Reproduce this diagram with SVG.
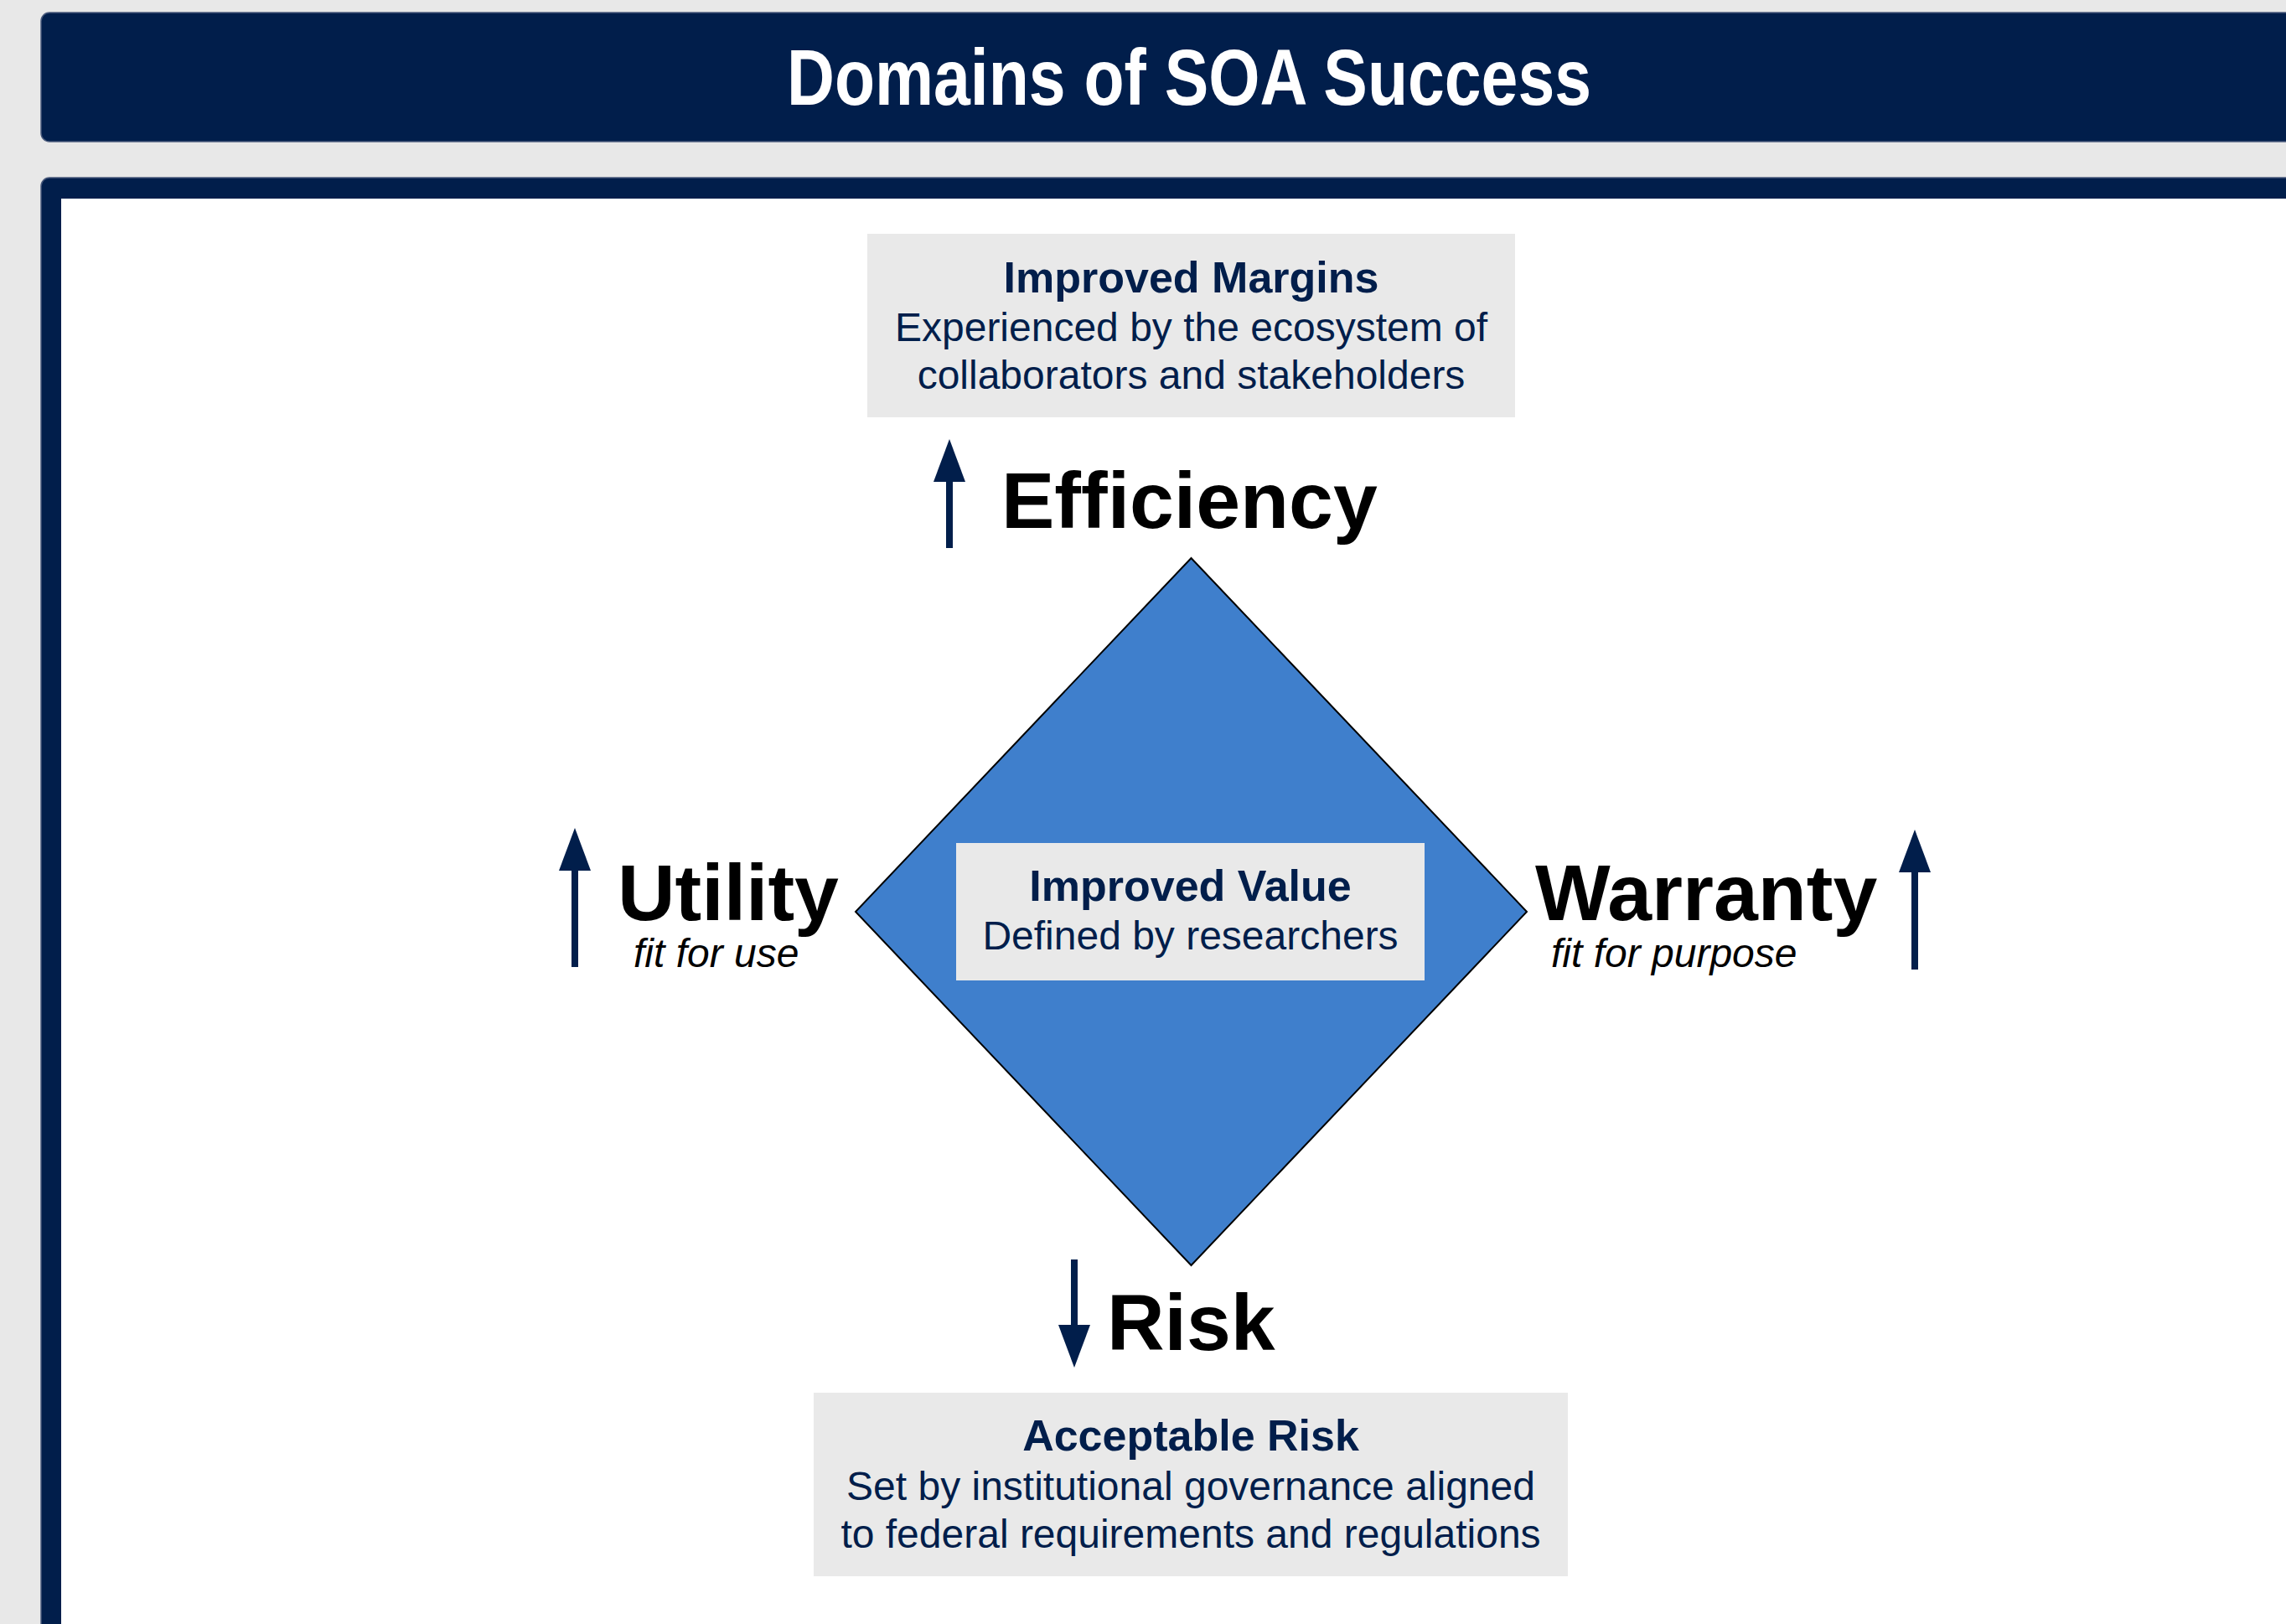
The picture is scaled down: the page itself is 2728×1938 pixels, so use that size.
<svg xmlns="http://www.w3.org/2000/svg" width="2728" height="1938" viewBox="0 0 2728 1938">
  <defs>
    <marker id="head" markerUnits="userSpaceOnUse" markerWidth="51" markerHeight="38" refX="0" refY="19" orient="auto" overflow="visible">
      <path d="M0,0 L51,19 L0,38 Z" fill="#011e4b"/>
    </marker>
    <style>
      .sans { font-family: "Liberation Sans", Arial, sans-serif; }
      .navy { fill: #011e4b; }
      .box { fill: #e9e9e9; }
      .hd { font-weight: bold; font-size: 52px; }
      .bd { font-size: 48px; }
      .big { font-weight: bold; font-size: 95px; fill: #000; }
      .sub { font-style: italic; font-size: 48px; fill: #000; }
      .arrow { stroke: #011e4b; stroke-width: 8; fill: none; marker-end: url(#head); }
    </style>
  </defs>

  <!-- page background -->
  <rect x="0" y="0" width="2728" height="1938" fill="#e8e8e8"/>

  <!-- title banner -->
  <g id="title">
    <rect x="49" y="15" width="2760" height="154" rx="10" fill="#011e4b" stroke="#4a5a7c" stroke-width="1.5"/>
    <text class="sans" x="1419" y="125" text-anchor="middle" font-size="95" font-weight="bold" fill="#ffffff" textLength="960" lengthAdjust="spacingAndGlyphs">Domains of SOA Success</text>
  </g>

  <!-- content frame -->
  <g id="frame">
    <rect x="49" y="212" width="2760" height="1800" rx="10" fill="#011e4b" stroke="#4a5a7c" stroke-width="1.5"/>
    <rect x="73" y="237" width="2740" height="1780" fill="#ffffff"/>
  </g>

  <!-- central diamond -->
  <g id="diamond">
    <polygon points="1421.5,666 1822,1088 1421.5,1510 1021,1088" fill="#3f7fcc" stroke="#000" stroke-width="2"/>
  </g>

  <!-- improved value -->
  <g id="value">
    <rect class="box" x="1141" y="1006" width="559" height="164"/>
    <text class="sans navy hd" x="1420.5" y="1075" text-anchor="middle">Improved Value</text>
    <text class="sans navy bd" x="1420.5" y="1133" text-anchor="middle">Defined by researchers</text>
  </g>

  <!-- improved margins -->
  <g id="margins">
    <rect class="box" x="1035" y="279" width="773" height="219"/>
    <text class="sans navy hd" x="1421.5" y="349" text-anchor="middle">Improved Margins</text>
    <text class="sans navy bd" x="1421.5" y="407" text-anchor="middle">Experienced by the ecosystem of</text>
    <text class="sans navy bd" x="1421.5" y="464" text-anchor="middle">collaborators and stakeholders</text>
  </g>

  <!-- acceptable risk -->
  <g id="acceptable">
    <rect class="box" x="971" y="1662" width="900" height="219"/>
    <text class="sans navy hd" x="1421" y="1731" text-anchor="middle">Acceptable Risk</text>
    <text class="sans navy bd" x="1421" y="1790" text-anchor="middle">Set by institutional governance aligned</text>
    <text class="sans navy bd" x="1421" y="1847" text-anchor="middle">to federal requirements and regulations</text>
  </g>

  <!-- domain labels -->
  <g id="efficiency">
    <text class="sans big" x="1195" y="630">Efficiency</text>
  </g>
  <g id="utility">
    <text class="sans big" x="737" y="1098">Utility</text>
    <text class="sans sub" x="756" y="1154">fit for use</text>
  </g>
  <g id="warranty">
    <text class="sans big" x="1832" y="1098">Warranty</text>
    <text class="sans sub" x="1851" y="1154">fit for purpose</text>
  </g>
  <g id="risk">
    <text class="sans big" x="1321" y="1611">Risk</text>
  </g>

  <!-- direction arrows -->
  <g id="connectors">
    <line class="arrow" x1="1133" y1="654" x2="1133" y2="575"/>
    <line class="arrow" x1="686" y1="1154" x2="686" y2="1039"/>
    <line class="arrow" x1="2285" y1="1157" x2="2285" y2="1041"/>
    <line class="arrow" x1="1282" y1="1503" x2="1282" y2="1581"/>
  </g>
</svg>
